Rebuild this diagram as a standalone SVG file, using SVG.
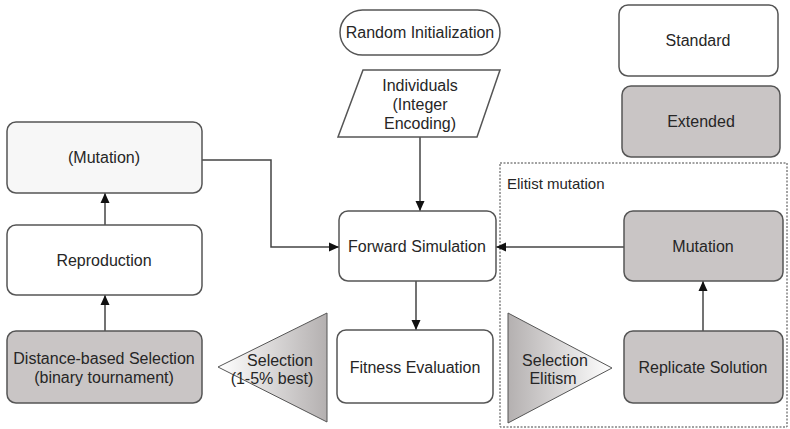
<svg xmlns="http://www.w3.org/2000/svg" width="790" height="429" viewBox="0 0 790 429">
  <style>
    text { font-family: "Liberation Sans", Arial, sans-serif; font-size: 16px; fill: #262626; text-anchor: middle; }
    .box { stroke: #555; stroke-width: 1.5; fill: #fff; }
    .ext { fill: #c9c5c5; }
    .light { fill: #f7f7f7; }
    .conn { stroke: #444; stroke-width: 1.5; fill: none; marker-end: url(#arrow); }
    .frame { stroke: #444; stroke-width: 1; stroke-dasharray: 2 1.5; fill: none; }
    .small { font-size: 15px; text-anchor: start; }
  </style>
  <defs>
    <marker id="arrow" viewBox="0 0 10 10" refX="10" refY="5" markerWidth="10" markerHeight="10" markerUnits="userSpaceOnUse" orient="auto">
      <path d="M0,0.5 L10,5 L0,9.5 Z" fill="#111"/>
    </marker>
    <linearGradient id="fadeRight" x1="0" y1="0" x2="1" y2="0">
      <stop offset="0" stop-color="#ffffff"/>
      <stop offset="1" stop-color="#b4b0b0"/>
    </linearGradient>
    <linearGradient id="fadeLeft" x1="0" y1="0" x2="1" y2="0">
      <stop offset="0" stop-color="#b4b0b0"/>
      <stop offset="1" stop-color="#ffffff"/>
    </linearGradient>
  </defs>

  <!-- elitist mutation frame -->
  <g id="elitist-frame">
    <rect class="frame" x="500" y="163" width="287" height="264"/>
    <text class="small" x="507" y="189">Elitist mutation</text>
  </g>

  <!-- connectors -->
  <g id="connectors">
    <polyline class="conn" points="202,160 271,160 271,247 339,247"/>
    <line class="conn" x1="420" y1="137" x2="420" y2="211"/>
    <line class="conn" x1="624" y1="247" x2="496" y2="247"/>
    <line class="conn" x1="416" y1="281" x2="416" y2="330"/>
    <line class="conn" x1="703" y1="331" x2="703" y2="281"/>
    <line class="conn" x1="105" y1="225" x2="105" y2="193"/>
    <line class="conn" x1="105" y1="331" x2="105" y2="295"/>
  </g>

  <!-- nodes -->
  <g id="random-init">
    <rect class="box" x="340" y="10" width="160" height="45" rx="22.5"/>
    <text x="420" y="38">Random Initialization</text>
  </g>
  <g id="individuals">
    <polygon class="box" points="363,70 500,70 477,137 338,137"/>
    <text x="420" y="91">Individuals</text>
    <text x="420" y="110">(Integer</text>
    <text x="420" y="129">Encoding)</text>
  </g>
  <g id="legend-standard">
    <rect class="box" x="619" y="5" width="159" height="71" rx="9"/>
    <text x="698" y="46">Standard</text>
  </g>
  <g id="legend-extended">
    <rect class="box ext" x="622" y="86" width="158" height="71" rx="9"/>
    <text x="701" y="127">Extended</text>
  </g>
  <g id="mutation-optional">
    <rect class="box light" x="7" y="122" width="195" height="71" rx="9"/>
    <text x="104" y="163">(Mutation)</text>
  </g>
  <g id="reproduction">
    <rect class="box" x="7" y="225" width="195" height="70" rx="9"/>
    <text x="104" y="266">Reproduction</text>
  </g>
  <g id="distance-selection">
    <rect class="box ext" x="7" y="331" width="195" height="72" rx="9"/>
    <text x="104" y="364">Distance-based Selection</text>
    <text x="104" y="383">(binary tournament)</text>
  </g>
  <g id="forward-simulation">
    <rect class="box" x="339" y="211" width="157" height="70" rx="9"/>
    <text x="417" y="252">Forward Simulation</text>
  </g>
  <g id="fitness-evaluation">
    <rect class="box" x="337" y="330" width="156" height="73" rx="9"/>
    <text x="415" y="373">Fitness Evaluation</text>
  </g>
  <g id="selection-best">
    <polygon points="218,367 327,313 327,422" fill="url(#fadeRight)" stroke="#555" stroke-width="1"/>
    <text x="280" y="366">Selection</text>
    <text x="272" y="384">(1-5% best)</text>
  </g>
  <g id="mutation">
    <rect class="box ext" x="624" y="211" width="159" height="70" rx="9"/>
    <text x="703" y="252">Mutation</text>
  </g>
  <g id="replicate-solution">
    <rect class="box ext" x="624" y="331" width="159" height="72" rx="9"/>
    <text x="703" y="373">Replicate Solution</text>
  </g>
  <g id="selection-elitism">
    <polygon points="508,313 508,423 612,368" fill="url(#fadeLeft)" stroke="#555" stroke-width="1"/>
    <text x="555" y="366">Selection</text>
    <text x="553" y="384">Elitism</text>
  </g>
</svg>
